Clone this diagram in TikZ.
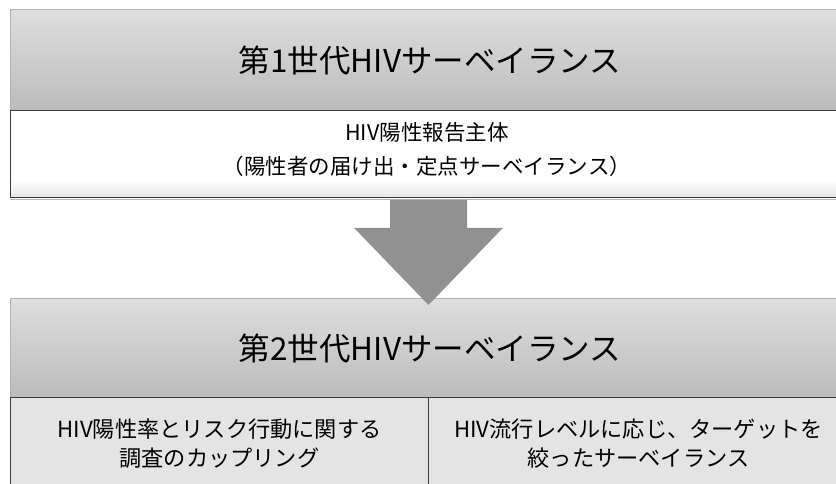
\documentclass[tikz,border=0pt]{standalone}
\usepackage{fontspec}
\setmainfont{Noto Sans CJK JP}
\usetikzlibrary{calc}
\definecolor{hdrtop}{RGB}{222,222,222}
\definecolor{hdrbot}{RGB}{188,188,188}
\definecolor{boxfill}{RGB}{228,228,228}
\definecolor{arrowfill}{RGB}{145,145,145}
\definecolor{edge}{RGB}{60,60,60}
\tikzset{
  x=1pt, y=-1pt,
  hdr/.style={rectangle, anchor=north west, inner sep=0pt, top color=hdrtop, bottom color=hdrbot, draw=gray!60, line width=0.6pt},
  titletext/.style={font=\fontsize{31.5}{36}\selectfont},
  bodybox/.style={rectangle, anchor=north west, inner sep=0pt, draw=edge, line width=0.8pt, align=center},
  cellbox/.style={bodybox, fill=boxfill, font=\fontsize{22.2}{29}\selectfont},
}
\begin{document}
\begin{tikzpicture}
\useasboundingbox (0,0) rectangle (836,484);
% first generation
\node[hdr, minimum width=840pt, minimum height=101pt] (h1) at (10,9) {};
\node[titletext] (t1) at (430,60) {第1世代HIVサーベイランス};
\node[bodybox, fill=white, draw=none, minimum width=840pt, minimum height=87pt] (b1) at (10,110) {};
\fill[top color=white, bottom color=gray!22] ($(b1.south west)+(0,-17)$) rectangle (b1.south east);
\draw[edge, line width=0.8pt] (b1.north west) rectangle (b1.south east);
\draw[gray!55, line width=1.2pt] ($(b1.south west)+(0,2)$) -- ($(b1.south east)+(0,2)$);
\node[align=center, font=\fontsize{21.5}{34}\selectfont] (b1t) at (427,150) {HIV陽性報告主体\\（陽性者の届け出・定点サーベイランス）};
% second generation
\node[hdr, minimum width=840pt, minimum height=99pt] (h2) at (10,298) {};
\node[titletext] (t2) at (430,348) {第2世代HIVサーベイランス};
\node[cellbox, minimum width=418pt, minimum height=92pt] (l2) at (10,397) {HIV陽性率とリスク行動に関する\\調査のカップリング};
\node[cellbox, minimum width=420pt, minimum height=92pt] (r2) at (428,397) {HIV流行レベルに応じ、ターゲットを\\絞ったサーベイランス};
% arrow between the generations
\coordinate (as) at (b1.south -| 428.5,0);
\coordinate (at) at (428.5,305);
\fill[arrowfill] ($(as)+(-38.5,2)$) -- ($(as)+(38.5,2)$) -- ($(as)+(38.5,30)$) -- ($(as)+(74.5,30)$) -- (at) -- ($(as)+(-74.5,30)$) -- ($(as)+(-38.5,30)$) -- cycle;
\end{tikzpicture}
\end{document}
